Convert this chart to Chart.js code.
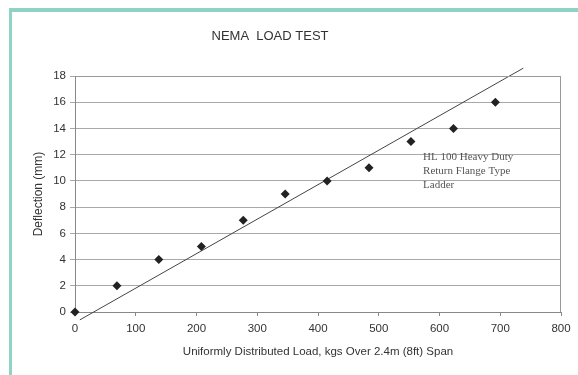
<!DOCTYPE html>
<html>
<head>
<meta charset="utf-8">
<script src="https://cdn.jsdelivr.net/npm/chart.js@4.4.1/dist/chart.umd.min.js"></script>
<style>
html,body{margin:0;padding:0;background:#fff;}
#wrap{position:relative;width:578px;height:375px;overflow:hidden;}
#c{position:absolute;left:0;top:0;}
#frame{position:absolute;left:9px;top:8px;right:0;bottom:0;border-top:4px solid #8fd2c6;border-left:3px solid #8fd2c6;pointer-events:none;}
</style>
</head>
<body>
<div id="wrap"><canvas id="c" width="578" height="375"></canvas><div id="frame"></div></div>
<script>
// Data
const loadKg = [0, 69, 138, 208, 277, 346, 415, 484, 553, 623, 692];
const deflectionMm = [0, 2, 4, 5, 7, 9, 10, 11, 13, 14, 16];
const trendX = [8, 738];
const trendY = [-0.6, 18.6];
const chartTitle = 'NEMA  LOAD TEST';
const xTitle = 'Uniformly Distributed Load, kgs Over 2.4m (8ft) Span';
const yTitle = 'Deflection (mm)';
const noteLines = ['HL 100 Heavy Duty', 'Return Flange Type', 'Ladder'];
const noteAt = {x: 573, y: 11.85};

const font = 'Arial, "Liberation Sans", sans-serif';

const extras = {
  id: 'extras',
  afterDraw(chart) {
    const ctx = chart.ctx, a = chart.chartArea;
    ctx.save();
    ctx.strokeStyle = '#999';
    ctx.lineWidth = 1;
    ctx.beginPath();
    ctx.moveTo(a.left, a.top + 0.5);
    ctx.lineTo(Math.round(a.right) - 0.5, a.top + 0.5);
    ctx.lineTo(Math.round(a.right) - 0.5, a.bottom);
    ctx.stroke();
    ctx.fillStyle = '#333';
    ctx.font = '13px ' + font;
    ctx.textAlign = 'center';
    ctx.textBaseline = 'middle';
    ctx.fillText(chartTitle, 270, 36);
    const xs = chart.scales.x, ys = chart.scales.y;
    ctx.font = '11px "Liberation Serif", "Times New Roman", serif';
    ctx.fillStyle = '#555';
    ctx.textAlign = 'left';
    const x0 = xs.getPixelForValue(noteAt.x), y0 = ys.getPixelForValue(noteAt.y);
    noteLines.forEach((t, i) => ctx.fillText(t, x0, y0 + i * 14));
    ctx.restore();
  }
};

new Chart(document.getElementById('c'), {
  type: 'scatter',
  data: {
    datasets: [
      {
        data: loadKg.map((x, i) => ({x, y: deflectionMm[i]})),
        pointStyle: 'rectRot',
        pointRadius: 4.5,
        backgroundColor: '#222',
        borderColor: '#222',
        borderWidth: 0,
        showLine: false,
        clip: false
      },
      {
        data: trendX.map((x, i) => ({x, y: trendY[i]})),
        showLine: true,
        pointRadius: 0,
        borderColor: '#444',
        borderWidth: 1,
        clip: false
      }
    ]
  },
  plugins: [extras],
  options: {
    responsive: false,
    animation: false,
    events: [],
    layout: {padding: {top: 76, right: 17, left: 0, bottom: 0}},
    plugins: {legend: {display: false}, tooltip: {enabled: false}, title: {display: false}},
    scales: {
      x: {
        type: 'linear', min: 0, max: 800,
        afterFit(s) { s.height = 63; },
        ticks: {stepSize: 100, color: '#333', font: {family: font, size: 11.5}, padding: 6, maxRotation: 0},
        grid: {drawOnChartArea: false, drawTicks: true, tickLength: 4, color: '#888'},
        border: {color: '#888'},
        title: {display: true, text: xTitle, color: '#333', font: {family: font, size: 11.5}, padding: {top: 0, bottom: 16}}
      },
      y: {
        min: 0, max: 18,
        afterFit(s) { s.width = 75; },
        ticks: {stepSize: 2, color: '#333', font: {family: font, size: 11.5}, padding: 4},
        grid: {color: '#a8a8a8', tickLength: 5},
        border: {color: '#888'},
        title: {display: true, text: yTitle, color: '#333', font: {family: font, size: 12}, padding: {top: 31, bottom: 0}}
      }
    }
  }
});
</script>
</body>
</html>
